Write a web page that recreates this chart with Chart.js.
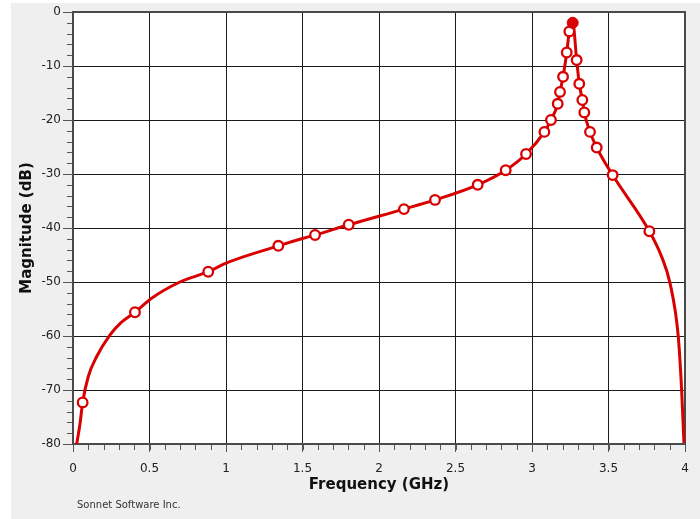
<!DOCTYPE html>
<html>
<head>
<meta charset="utf-8">
<script src="https://cdn.jsdelivr.net/npm/chart.js@4.4.0/dist/chart.umd.min.js"></script>
<style>
  html, body { margin: 0; padding: 0; background: #ffffff; }
  #wrap { width: 700px; height: 519px; }
</style>
</head>
<body>
<div id="wrap"><canvas id="magChart" width="700" height="519"></canvas></div>
<script>
// Curve (GHz, dB)
const curveFreq = [0.024, 0.046, 0.063, 0.100, 0.155, 0.242, 0.307, 0.405, 0.514, 0.699,
                   0.884, 1.000, 1.342, 1.505, 1.582, 1.802, 2.163, 2.366, 2.645, 2.828,
                   2.961, 3.081, 3.124, 3.168, 3.183, 3.203, 3.227, 3.244, 3.266, 3.292,
                   3.309, 3.329, 3.342, 3.379, 3.423, 3.527, 3.767, 3.847, 3.902, 3.956,
                   3.978, 3.993];
const curveMag = [-80.0, -76.2, -72.3, -67.5, -63.8, -59.8, -57.7, -55.6, -53.0, -50.0,
                  -48.1, -46.5, -43.3, -41.9, -41.3, -39.4, -36.5, -34.8, -32.0, -29.3,
                  -26.3, -22.2, -20.0, -17.0, -14.8, -12.0, -7.5, -3.6, -2.0, -8.9,
                  -13.3, -16.3, -18.6, -22.2, -25.1, -30.2, -40.6, -45.3, -50.2, -60.1,
                  -70.0, -79.8];

// Simulated sample points (hollow markers)
const sampleFreq = [0.063, 0.405, 0.884, 1.342, 1.582, 1.802, 2.163, 2.366, 2.645, 2.828,
                    2.961, 3.081, 3.124, 3.168, 3.183, 3.203, 3.227, 3.244, 3.292, 3.309,
                    3.329, 3.342, 3.379, 3.423, 3.527, 3.767];
const sampleMag = [-72.3, -55.6, -48.1, -43.3, -41.3, -39.4, -36.5, -34.8, -32.0, -29.3,
                   -26.3, -22.2, -20.0, -17.0, -14.8, -12.0, -7.5, -3.6, -8.9, -13.3,
                   -16.3, -18.6, -22.2, -25.1, -30.2, -40.6];

// Peak marker (filled)
const peakFreq = [3.266];
const peakMag = [-2.0];

// Axis ranges and tick steps
const xRange = [0, 4];
const yRange = [-80, 0];
const xMajorStep = 0.5;
const xMinorStep = 0.1;
const yMajorStep = 10;
const yMinorStep = 2;

const RED = "#d80000";
const FONT = "'DejaVu Sans', Verdana, sans-serif";

function toPoints(xs, ys) {
    return xs.map(function(x, i) { return { x: x, y: ys[i] }; });
}

// Grey frame, white plot area, border and minor ticks
const framePlugin = {
    id: "frame",
    beforeDraw: function(chart) {
        const ctx = chart.ctx;
        const a = chart.chartArea;
        ctx.save();
        ctx.fillStyle = "#ffffff";
        ctx.fillRect(0, 0, chart.width, chart.height);
        ctx.fillStyle = "#efefef";
        ctx.fillRect(11, 3, chart.width - 11, chart.height - 3);
        ctx.fillStyle = "#ffffff";
        ctx.fillRect(a.left, a.top, a.right - a.left, a.bottom - a.top);
        ctx.restore();
    },
    beforeDatasetsDraw: function(chart) {
        const ctx = chart.ctx;
        const a = chart.chartArea;
        const xs = chart.scales.x;
        const ys = chart.scales.y;
        ctx.save();
        ctx.strokeStyle = "#555555";
        ctx.lineWidth = 1;
        ctx.beginPath();
        for (let v = xRange[0]; v <= xRange[1] + 1e-9; v += xMinorStep) {
            const px = Math.round(xs.getPixelForValue(v)) + 0.5;
            ctx.moveTo(px, a.bottom);
            ctx.lineTo(px, a.bottom + 6);
        }
        for (let v = yRange[0]; v <= yRange[1] + 1e-9; v += yMinorStep) {
            const py = Math.round(ys.getPixelForValue(v)) + 0.5;
            ctx.moveTo(a.left - 6, py);
            ctx.lineTo(a.left, py);
        }
        ctx.stroke();
        ctx.lineWidth = 2;
        ctx.strokeStyle = "#4a4a4a";
        ctx.strokeRect(a.left, a.top, a.right - a.left, a.bottom - a.top);
        ctx.restore();
    },
    afterDraw: function(chart) {
        const ctx = chart.ctx;
        ctx.save();
        ctx.fillStyle = "#333333";
        ctx.font = "10px " + FONT;
        ctx.textBaseline = "middle";
        ctx.fillText("Sonnet Software Inc.", 77, 505);
        ctx.restore();
    }
};

new Chart(document.getElementById("magChart"), {
    type: "scatter",
    data: {
        datasets: [
            {
                label: "Peak",
                data: toPoints(peakFreq, peakMag),
                showLine: false,
                pointRadius: 5.5,
                pointBackgroundColor: RED,
                pointBorderColor: RED,
                pointBorderWidth: 1
            },
            {
                label: "Samples",
                data: toPoints(sampleFreq, sampleMag),
                showLine: false,
                pointRadius: 4.8,
                pointBackgroundColor: "#ffffff",
                pointBorderColor: RED,
                pointBorderWidth: 2.3
            },
            {
                label: "Magnitude",
                data: toPoints(curveFreq, curveMag),
                showLine: true,
                cubicInterpolationMode: "monotone",
                borderColor: RED,
                borderWidth: 3,
                pointRadius: 0,
                fill: false
            }
        ]
    },
    options: {
        responsive: false,
        animation: false,
        layout: { padding: { top: 12, right: 15, left: 0, bottom: 0 } },
        plugins: {
            legend: { display: false },
            tooltip: { enabled: false }
        },
        scales: {
            x: {
                type: "linear",
                min: xRange[0],
                max: xRange[1],
                afterFit: function(scale) { scale.height = 75; },
                ticks: {
                    stepSize: xMajorStep,
                    color: "#222222",
                    font: { family: FONT, size: 12 },
                    padding: 10,
                    maxRotation: 0,
                    callback: function(value) { return String(value); }
                },
                grid: { color: "#1a1a1a", lineWidth: 1, tickLength: 8, tickColor: "#555555" },
                border: { display: false },
                title: {
                    display: true,
                    text: "Frequency (GHz)",
                    color: "#111111",
                    font: { family: FONT, size: 15, weight: "bold" },
                    padding: { top: 0, bottom: 25 }
                }
            },
            y: {
                type: "linear",
                min: yRange[0],
                max: yRange[1],
                afterFit: function(scale) { scale.width = 73; },
                ticks: {
                    stepSize: yMajorStep,
                    color: "#222222",
                    font: { family: FONT, size: 12 },
                    padding: 2
                },
                grid: { color: "#1a1a1a", lineWidth: 1, tickLength: 10, tickColor: "#555555" },
                border: { display: false },
                title: {
                    display: true,
                    text: "Magnitude (dB)",
                    color: "#111111",
                    font: { family: FONT, size: 15, weight: "bold" },
                    padding: { top: 18, bottom: 0 }
                }
            }
        }
    },
    plugins: [framePlugin]
});
</script>
</body>
</html>
